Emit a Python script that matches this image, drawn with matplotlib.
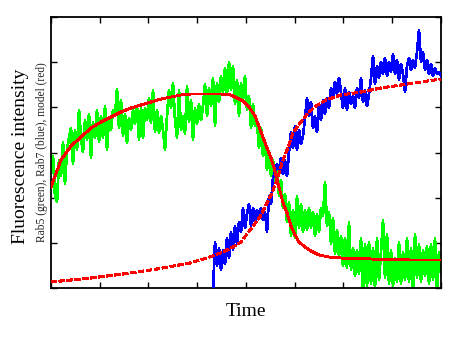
import numpy as np
import matplotlib
matplotlib.use("Agg")
import matplotlib.pyplot as plt

plt.rcParams["font.family"] = ["Liberation Serif", "DejaVu Serif"]

# Time axis (arbitrary units) and fluorescence traces (arbitrary units)
rab5_t = np.arange(0, 391, 2)
rab5 = [
    118, 132, 92, 86, 128, 112, 146, 104, 138, 150,
    160, 124, 158, 138, 178, 150, 136, 168, 148, 174,
    130, 166, 150, 178, 146, 172, 150, 182, 138, 170,
    158, 178, 172, 199, 160, 188, 152, 174, 145, 170,
    158, 178, 164, 182, 148, 180, 150, 180, 168, 190,
    165, 198, 156, 178, 155, 172, 158, 138, 172, 198,
    180, 205, 168, 150, 198, 158, 172, 154, 202, 166,
    188, 148, 180, 164, 184, 168, 182, 204, 172, 200,
    182, 210, 162, 205, 186, 212, 196, 220, 194, 226,
    198, 222, 184, 208, 172, 205, 188, 212, 178, 192,
    160, 184, 162, 166, 140, 160, 132, 146, 118, 134,
    112, 128, 106, 124, 92, 108, 80, 94, 66, 86,
    52, 78, 50, 92, 60, 84, 56, 78, 58, 80,
    60, 76, 52, 74, 56, 80, 72, 106, 62, 76,
    44, 70, 34, 58, 32, 52, 22, 50, 20, 66,
    18, 40, 12, 38, 14, 50, -2, 44, 2, 46,
    4, 40, 0, 50, 8, 36, 68, 10, 54, 4,
    38, 2, 30, 6, 46, 4, 36, 8, 50, 6,
    40, -2, 54, 10, 44, 6, 38, 12, 42, 4,
    44, 8, 50, -2, 36, 14,
]

rab7_t = np.arange(162, 391, 2)
rab7 = [
    -4, 46, 22, 40, 18, 38, 24, 50, 30, 56,
    38, 62, 44, 66, 56, 80, 60, 74, 84, 62,
    80, 66, 78, 70, 80, 68, 76, 56, 92, 84,
    110, 116, 124, 118, 130, 114, 128, 112, 136, 156,
    140, 162, 138, 158, 144, 152, 170, 190, 172, 186,
    160, 172, 156, 184, 168, 188, 174, 190, 180, 200,
    192, 206, 194, 210, 196, 180, 200, 178, 196, 184,
    192, 180, 200, 190, 210, 186, 198, 182, 194, 210,
    232, 204, 222, 210, 226, 214, 230, 212, 226, 216,
    234, 214, 228, 208, 224, 214, 196, 222, 230, 218,
    228, 220, 236, 258, 226, 236, 218, 228, 214, 224,
    212, 220, 214, 216, 212,
]

# Model curves
model5_t = [0, 10, 20, 30, 40, 50, 60, 70, 80, 90, 100, 110, 120, 130, 140,
            150, 160, 170, 180, 186, 192, 198, 204, 210, 216, 220, 224, 228,
            232, 236, 240, 244, 248, 254, 260, 268, 278, 290, 320, 360, 390]
model5 = [101, 128, 142, 151, 160, 166, 171, 176, 180, 183, 186, 189, 191,
          193, 194, 194, 194, 194, 193, 190, 187, 181, 172, 156, 140, 130,
          117, 101, 85, 75, 62, 53, 46, 41, 37, 33, 31, 30, 29, 28, 28]

model7_t = [0, 40, 72, 106, 139, 156, 172, 182, 190, 199, 209, 216, 221, 226,
            231, 236, 242, 249, 257, 265, 275, 290, 310, 330, 350, 370, 390]
model7 = [6, 10, 14, 19, 25, 30, 36, 41, 46, 58, 71, 85, 95, 108, 125, 138,
          155, 165, 175, 182, 188, 193, 196, 200, 203, 206, 209]

fig = plt.figure(figsize=(4.56, 3.39), dpi=100)
ax = fig.add_axes([51 / 456, 1 - 288 / 339, 390 / 456, 271 / 339])

lw = 1.25
ax.plot(rab5_t, rab5, color="#00ff00", lw=lw, antialiased=False, zorder=2)
ax.plot(rab7_t, rab7, color="#0000ff", lw=lw, antialiased=False, zorder=3)
ax.plot(model5_t, model5, color="#ff0000", lw=1.4, antialiased=False, zorder=4)
ax.plot(model7_t, model7, color="#ff0000", lw=1.4, dashes=(2.6, 1.3),
        antialiased=False, zorder=4)

ax.set_xlim(0, 390)
ax.set_ylim(0, 271)
ax.set_xticks(np.linspace(0, 390, 9))
ax.set_yticks(np.linspace(0, 271, 7))
ax.tick_params(direction="in", length=4.5, width=1.0, top=True, right=True,
               labelbottom=False, labelleft=False)
for s in ax.spines.values():
    s.set_linewidth(1.3)

fig.text(21 / 456, 1 - 156 / 339, "Fluorescence intensity", rotation=90,
         ha="center", va="center", fontsize=14)
fig.text(42 / 456, 1 - 152 / 339, "Rab5 (green), Rab7 (blue), model (red)",
         rotation=90, ha="center", va="center", fontsize=8.3, color="#222222")
fig.text(246 / 456, 1 - 316 / 339, "Time", ha="center", va="baseline",
         fontsize=14)

fig.savefig("out.png", dpi=100)
